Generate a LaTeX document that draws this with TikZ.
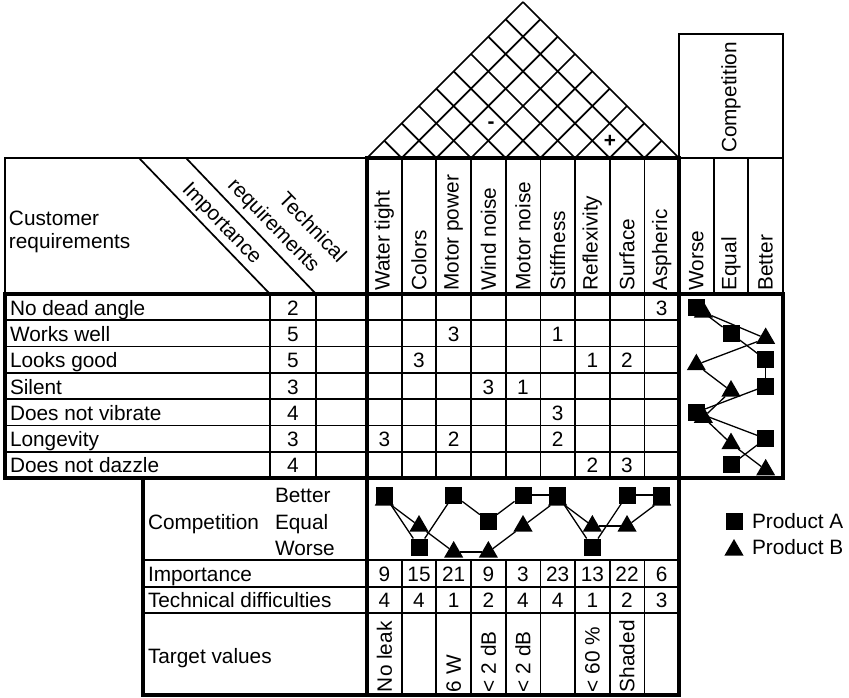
\documentclass[tikz,border=0pt]{standalone}
\usepackage{fontspec}
\setmainfont{Liberation Sans}
\usetikzlibrary{shapes.geometric}

\tikzset{
  gridline/.style={line width=1.7pt},
  boldline/.style={line width=3.8pt, line cap=rect},
  link/.style={line width=1.3pt},
  txt/.style={font=\fontsize{20.8}{25}\selectfont, inner sep=0pt, outer sep=0pt},
  prodA/.style={fill, rectangle, minimum size=17pt, inner sep=0pt, outer sep=0pt},
  prodB/.style={fill, regular polygon, regular polygon sides=3, minimum size=22pt, inner sep=0pt, outer sep=0pt},
}

\begin{document}
\begin{tikzpicture}[x=1pt, y=-1pt]
  \useasboundingbox (0,0) rectangle (849,698);
  \def\cw{34.67}
  \def\rh{26.29}

  % roof
  \foreach \k in {0,...,9} {
    \draw[gridline] ({367+\k*\cw},158) -- ++({(9-\k)*\cw/2},{-(9-\k)*\cw/2});
    \draw[gridline] ({367+\k*\cw},158) -- ++({-\k*\cw/2},{-\k*\cw/2});
  }
  \node[txt, anchor=base] (minus) at (491,129) {\bfseries -};
  \node[txt, anchor=base] (plus) at (610,148) {\bfseries +};

  % grid
  \draw[gridline] (5,158) rectangle (367,294);
  \draw[gridline] (139,158) -- (270,294);
  \draw[gridline] (186,158) -- (316,294);
  \draw[gridline] (679,34) rectangle (783,294);
  \draw[gridline] (679,158) -- (783,158);
  \foreach \k in {1,2}
    \draw[gridline] ({679+\k*\cw},158) -- ({679+\k*\cw},294);
  \foreach \k in {1,...,8} {
    \draw[gridline] ({367+\k*\cw},158) -- ({367+\k*\cw},478);
    \draw[gridline] ({367+\k*\cw},560) -- ({367+\k*\cw},695);
  }
  \foreach \r in {1,...,6}
    \draw[gridline] (5,{294+\r*\rh}) -- (679,{294+\r*\rh});
  \draw[gridline] (270,294) -- (270,478);
  \draw[gridline] (316,294) -- (316,478);
  \foreach \y in {560,587,613}
    \draw[gridline] (143,\y) -- (679,\y);

  % heavy borders
  \draw[boldline] (5,294) rectangle (783,478);
  \draw[boldline] (143,478) rectangle (679,695);
  \draw[boldline] (367,158) -- (679,158);
  \draw[boldline] (367,158) -- (367,695);
  \draw[boldline] (679,158) -- (679,478);

  % header texts
  \node[txt, anchor=base west] (cust) at (9,225) {Customer};
  \node[txt, anchor=base west] (custreq) at (9,248) {requirements};
  \node[txt, rotate=-46] (impo) at (221,224) {Importance};
  \node[txt, rotate=-46] (treq) at (273,226) {requirements};
  \node[txt, rotate=-46] (tech) at (313,227) {Technical};
  \foreach \n [count=\i] in {Water tight,Colors,Motor power,Wind noise,Motor noise,Stiffness,Reflexivity,Surface,Aspheric}
    \node[txt, rotate=90, anchor=west] (tr\i) at ({367+(\i-0.5)*\cw},290.5) {\n};
  \node[txt, rotate=90, anchor=west] (comp) at (731,153) {Competition};
  \foreach \n [count=\i] in {Worse,Equal,Better}
    \node[txt, rotate=90, anchor=west] (lvl\i) at ({679+(\i-0.5)*\cw},290.5) {\n};

  % customer requirements
  \foreach \n/\v [count=\i] in {No dead angle/2,Works well/5,Looks good/5,Silent/3,Does not vibrate/4,Longevity/3,Does not dazzle/4} {
    \node[txt, anchor=base west] (cr\i) at (10,{294+(\i-0.5)*\rh+8}) {\n};
    \node[txt, anchor=base] (ci\i) at (293,{294+(\i-0.5)*\rh+8}) {\v};
  }
  \foreach \r/\c/\v in {1/9/3,2/3/3,2/6/1,3/2/3,3/7/1,3/8/2,4/4/3,4/5/1,5/6/3,6/1/3,6/3/2,6/6/2,7/7/2,7/8/3}
    \node[txt, anchor=base] (m\r\c) at ({367+(\c-0.5)*\cw},{294+(\r-0.5)*\rh+8}) {\v};

  % competition, right panel
  \foreach \a/\b [count=\i] in {1/1,2/3,3/1,3/2,1/1,3/2,2/3} {
    \pgfmathsetmacro\dx{(\a==\b)*7}
    \node[prodB] (rb\i) at ({679+(\b-0.5)*\cw+\dx},{294+(\i-0.5)*\rh+5}) {};
    \node[prodA] (ra\i) at ({679+(\a-0.5)*\cw},{294+(\i-0.5)*\rh}) {};
  }
  \foreach \i [count=\j from 2] in {1,...,6} {
    \draw[link] (ra\i) -- (ra\j);
    \draw[link] (rb\i) -- (rb\j);
  }

  % competition, lower panel
  \foreach \a/\b [count=\i] in {0/0,2/1,0/2,1/2,0/1,0/0,2/1,0/1,0/0} {
    \node[prodB] (pb\i) at ({367+(\i-0.5)*\cw},{495+\b*26+5}) {};
    \node[prodA] (pa\i) at ({367+(\i-0.5)*\cw},{495+\a*26}) {};
  }
  \foreach \i [count=\j from 2] in {1,...,8} {
    \draw[link] (pa\i) -- (pa\j);
    \draw[link] (pb\i) -- (pb\j);
  }

  % lower rows
  \node[txt, anchor=base west] (bcomp) at (148,529) {Competition};
  \node[txt, anchor=base west] (bbet) at (275,502) {Better};
  \node[txt, anchor=base west] (bequ) at (275,529) {Equal};
  \node[txt, anchor=base west] (bwor) at (275,555) {Worse};
  \node[txt, anchor=base west] (bimp) at (148,581.5) {Importance};
  \node[txt, anchor=base west] (bdif) at (148,607.5) {Technical difficulties};
  \node[txt, anchor=base west] (btar) at (148,663) {Target values};
  \foreach \v [count=\i] in {9,15,21,9,3,23,13,22,6}
    \node[txt, anchor=base] (wi\i) at ({367+(\i-0.5)*\cw},581.5) {\v};
  \foreach \d [count=\i] in {4,4,1,2,4,4,1,2,3}
    \node[txt, anchor=base] (td\i) at ({367+(\i-0.5)*\cw},607.5) {\d};
  \foreach \i/\t in {1/No leak,3/6 W,4/{< 2 dB},5/{< 2 dB},7/{< 60 \%},8/Shaded}
    \node[txt, rotate=90, anchor=west] (tv\i) at ({367+(\i-0.5)*\cw},692) {\t};

  % legend
  \node[prodA] (keyA) at (734,521) {};
  \node[txt, anchor=base west] (labA) at (752,528) {Product A};
  \node[prodB] (keyB) at (734,550) {};
  \node[txt, anchor=base west] (labB) at (752,554) {Product B};
\end{tikzpicture}
\end{document}
